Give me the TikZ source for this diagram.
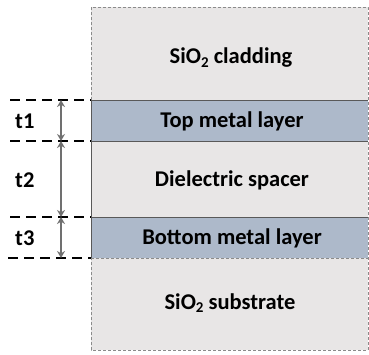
\documentclass[tikz,border=0pt]{standalone}
\usepackage{fontspec}
\setmainfont{Carlito}
\usetikzlibrary{arrows.meta}
\definecolor{clad}{HTML}{E8E6E6}
\definecolor{metal}{HTML}{ADB9CA}
\definecolor{edge}{HTML}{595959}
\definecolor{arr}{HTML}{707070}
\newcommand{\subtwo}{\raisebox{-0.3ex}{\fontsize{15}{16}\selectfont 2}}
\tikzset{
  lbl/.style={font=\bfseries\fontsize{22.5}{24}\selectfont, text=black, anchor=center, inner sep=0pt},
  guide/.style={draw=black, line width=1.8pt, dash pattern=on 10pt off 6pt},
  dim/.style={draw=arr, line width=1.8pt, {Stealth[length=7pt,width=8pt]}-{Stealth[length=7pt,width=8pt]}},
  thinedge/.style={draw=edge!70, line width=0.7pt, dash pattern=on 3pt off 2pt},
  solidedge/.style={draw=edge, line width=1pt}
}
\begin{document}
\begin{tikzpicture}[x=1pt,y=-1pt]
\useasboundingbox (0,0) rectangle (369,354);
% layers
\fill[clad] (91,7) rectangle (368,100);
\fill[metal] (91,100) rectangle (368,141);
\fill[clad] (91,141) rectangle (368,217);
\fill[metal] (91,217) rectangle (368,258);
\fill[clad] (91,258) rectangle (368,350);
% outer dashed borders
\draw[thinedge] (91,100) -- (91,7) -- (368,7) -- (368,350) -- (91,350) -- (91,258);
\draw[thinedge] (91,258) -- (368,258);
% solid edges
\draw[solidedge] (368,100) -- (91,100) -- (91,258);
\draw[solidedge] (91,141) -- (368,141);
\draw[solidedge] (91,217) -- (368,217);
% coordinates for guides
\coordinate (g1l) at (10,100); \coordinate (g1r) at (91,100);
\coordinate (g2l) at (10,141); \coordinate (g2r) at (91,141);
\coordinate (g3l) at (10,217); \coordinate (g3r) at (91,217);
\coordinate (g4l) at (8,258);  \coordinate (g4r) at (91,258);
\draw[guide] (g1l) -- (g1r);
\draw[guide] (g2l) -- (g2r);
\draw[guide] (g3l) -- (g3r);
\draw[guide] (g4l) -- (g4r);
\coordinate (a1) at (61,100);
\coordinate (a2) at (61,141);
\coordinate (a3) at (61,217);
\coordinate (a4) at (61,258);
\draw[dim] (a1) -- (a2);
\draw[dim] (a2) -- (a3);
\draw[dim] (a3) -- (a4);
% labels
\node[lbl] (clad) at (231,58) {SiO\subtwo\ cladding};
\node[lbl] (top) at (232,121) {Top metal layer};
\node[lbl] (diel) at (232,180) {Dielectric spacer};
\node[lbl] (bot) at (232,238) {Bottom metal layer};
\node[lbl] (sub) at (230,303) {SiO\subtwo\ substrate};
\node[lbl,anchor=west] (t1) at (15,121) {t1};
\node[lbl,anchor=west] (t2) at (15,180) {t2};
\node[lbl,anchor=west] (t3) at (15,238) {t3};
\end{tikzpicture}
\end{document}
